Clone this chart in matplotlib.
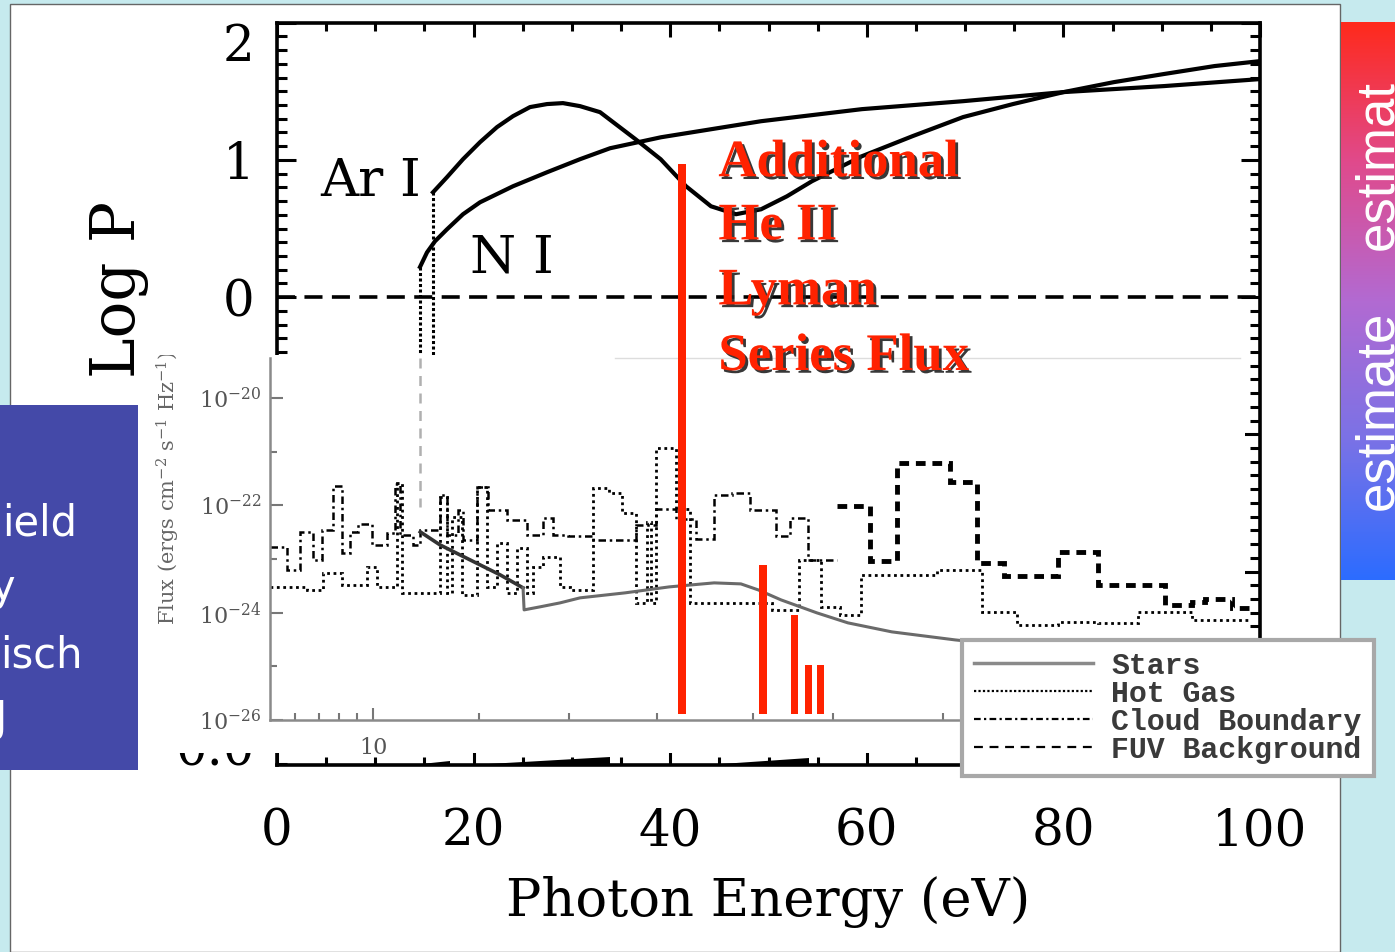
import numpy as np
import matplotlib
matplotlib.use("Agg")
import matplotlib.pyplot as plt
import matplotlib.patheffects as pe
from matplotlib.patches import Rectangle
from matplotlib.lines import Line2D
from matplotlib.ticker import MultipleLocator
from matplotlib.colors import LinearSegmentedColormap

plt.rcParams["font.family"] = "DejaVu Serif"
plt.rcParams["mathtext.fontset"] = "dejavuserif"

# ---- main panel: Log P against photon energy (eV) ----
ar_energy = [15.87, 17.29, 18.92, 20.65, 22.38, 24.01, 25.74, 27.47, 29.09, 30.82,
             32.86, 36.47, 39.03, 41.61, 44.15, 46.69, 49.24, 51.88, 54.43, 59.51,
             64.65, 69.79, 74.87, 80.01, 85.15, 90.23, 95.38, 100.0]
ar_logp = [0.764, 0.874, 1.005, 1.129, 1.239, 1.319, 1.385, 1.407, 1.414, 1.392,
           1.348, 1.151, 1.005, 0.808, 0.662, 0.604, 0.640, 0.735, 0.845, 1.027,
           1.173, 1.312, 1.407, 1.494, 1.567, 1.626, 1.684, 1.720]
n_energy = [14.55, 15.26, 16.07, 17.29, 18.92, 20.65, 24.01, 27.47, 30.82, 33.88,
            39.06, 49.24, 59.51, 69.79, 79.96, 90.23, 100.0]
n_logp = [0.22, 0.326, 0.407, 0.494, 0.604, 0.691, 0.808, 0.910, 1.005, 1.085,
          1.165, 1.282, 1.370, 1.428, 1.494, 1.538, 1.589]
edge_bottom = -0.42

# He II Lyman series bars
lyman_energy = [41.2, 49.4, 52.65, 54.1, 55.3]
lyman_top = [0.97, -1.95, -2.32, -2.68, -2.68]
lyman_width = [0.9, 0.8, 0.8, 0.7, 0.7]
lyman_bottom = -3.04
lyman_lines = ["Additional", "He II", "Lyman", "Series Flux"]
lyman_baselines = [0.881, 0.421, -0.053, -0.531]

# bits of the lower panel that peek out (start, end, height)
wedges = [(13.7, 17.6, 0.032), (19.7, 33.9, 0.055), (43.7, 54.1, 0.048)]

# ---- inset: log10 energy (eV) and log10 flux ----
stars_loge = [1.134, 1.190, 1.247, 1.304, 1.361, 1.426, 1.429, 1.474, 1.531, 1.588,
              1.716, 1.841, 1.969, 2.045, 2.094, 2.159, 2.261, 2.349, 2.474, 2.653,
              2.923, 3.207, 3.492]
stars_logf = [-22.495, -22.737, -22.924, -23.110, -23.296, -23.538, -23.948, -23.892,
              -23.818, -23.724, -23.631, -23.520, -23.445, -23.464, -23.575, -23.762,
              -24.004, -24.190, -24.358, -24.507, -24.693, -24.786, -24.879]

hot_edges = [0.707, 0.813, 0.858, 0.912, 0.983, 1.011, 1.068, 1.082, 1.190, 1.210,
             1.224, 1.253, 1.295, 1.324, 1.352, 1.381, 1.409, 1.438, 1.455, 1.483,
             1.531, 1.560, 1.625, 1.670, 1.707, 1.747, 1.778, 1.790, 1.804, 1.861,
             1.901, 2.134, 2.210, 2.273, 2.327, 2.386, 2.602, 2.730, 2.830, 2.946,
             3.060, 3.173, 3.327, 3.492]
hot_logf = [-23.520, -23.575, -23.259, -23.482, -23.147, -23.520, -21.583, -23.631,
            -21.844, -23.631, -22.216, -23.669, -21.657, -23.520, -22.700, -23.631,
            -22.793, -23.631, -23.147, -22.961, -23.520, -23.575, -21.676, -21.769,
            -22.142, -23.818, -22.309, -23.818, -20.931, -22.067, -23.818, -23.948,
            -23.017, -23.892, -24.041, -23.296, -23.203, -23.985, -24.227, -24.171,
            -24.190, -23.985, -24.134]

cloud_edges = [0.707, 0.756, 0.793, 0.830, 0.855, 0.886, 0.912, 0.935, 0.957, 0.997,
               1.040, 1.063, 1.077, 1.114, 1.134, 1.190, 1.210, 1.241, 1.256, 1.295,
               1.327, 1.381, 1.438, 1.483, 1.511, 1.554, 1.625, 1.747, 1.804, 1.861,
               1.918, 1.969, 2.020, 2.071, 2.145, 2.185, 2.236, 2.318]
cloud_logf = [-22.775, -23.203, -22.495, -23.017, -22.458, -21.639, -22.886, -22.495,
              -22.346, -22.737, -22.514, -21.601, -22.551, -22.737, -22.458, -21.806,
              -22.551, -22.086, -22.644, -21.657, -22.086, -22.272, -22.551, -22.235,
              -22.551, -22.570, -22.644, -22.365, -22.067, -22.253, -22.626, -21.806,
              -21.769, -22.086, -22.570, -22.235, -23.017]

fuv_edges = [2.318, 2.412, 2.489, 2.639, 2.716, 2.793, 2.946, 3.060, 3.250, 3.327,
             3.364, 3.440, 3.492]
fuv_logf = [-22.011, -23.035, -21.210, -21.564, -23.073, -23.315, -22.868, -23.482,
            -23.855, -23.799, -23.743, -23.911]

hydrogen_edge = 1.134
inset_minor_ev = [6, 7, 8, 9, 20, 36, 64, 120, 203, 416]
legend_labels = ["Stars", "Hot Gas", "Cloud Boundary", "FUV Background"]

side_lines = ["ield", "y", "isch", "J"]
W, H = 1395, 952


def rect(left, top, right, bottom):
    return [left / W, 1 - bottom / H, (right - left) / W, (bottom - top) / H]


fig = plt.figure(figsize=(W / 100, H / 100), dpi=100, facecolor="#c6eaee")

# slide panel
fig.add_artist(Rectangle((10 / W, 0), 1330 / W, 948 / H, transform=fig.transFigure,
                         facecolor="white", edgecolor="#666666", lw=1, zorder=0.1))

# main axes
ax = fig.add_axes(rect(277, 22.7, 1260, 765), zorder=1)
ax.set_facecolor("none")
ax.set_xlim(0, 100)
ax.set_ylim(-3.41, 2)
ax.plot(ar_energy, ar_logp, color="black", lw=3)
ax.plot(n_energy, n_logp, color="black", lw=3)
ax.axhline(0, color="black", lw=2.6, dashes=(5, 2.6))
ax.plot([ar_energy[0]] * 2, [ar_logp[0], edge_bottom], color="black", lw=2.2, dashes=(1, 0.8))
ax.plot([n_energy[0]] * 2, [n_logp[0], edge_bottom], color="black", lw=2.2, dashes=(1, 0.8))
ax.text(4.4, 0.734, "Ar I", fontsize=38)
ax.text(19.6, 0.18, "N I", fontsize=38)
for e0, e1, dh in wedges:
    ax.fill([e0, e1, e1], [-3.41, -3.41, -3.41 + dh], color="black", lw=0)

ax.set_xticks(range(0, 101, 20))
ax.xaxis.set_minor_locator(MultipleLocator(5))
ax.set_yticks([-3, -2, -1, 0, 1, 2])
ax.set_yticklabels(["", "", "", "0", "1", "2"])
ax.get_yticklabels()[-1].set_va("top")
ax.yaxis.set_minor_locator(MultipleLocator(0.1))
ax.tick_params(which="both", direction="in", top=True, right=True, width=2.2, labelsize=36)
ax.tick_params(axis="x", which="major", length=10, pad=30)
ax.tick_params(axis="x", which="minor", length=6)
ax.tick_params(axis="y", which="major", length=14, pad=16)
ax.tick_params(axis="y", which="minor", length=7)
for s in ax.spines.values():
    s.set_linewidth(2.6)
ax.set_xlabel("Photon Energy (eV)", fontsize=38, labelpad=14)
ax.set_ylabel("Log P", fontsize=44)
ax.yaxis.set_label_coords(-0.130, 0.64)

# label of lower panel, mostly hidden
fig.text(215 / W, 1 - 752 / H, "0.0", ha="center", va="center", fontsize=36, zorder=1.2)

# inset picture
inset_bg = Rectangle((150 / W, 1 - 753 / H), 1095 / W, 398 / H, transform=fig.transFigure,
                     facecolor="white", edgecolor="none", zorder=1.5)
fig.add_artist(inset_bg)

ax_in = fig.add_axes(rect(270, 358, 1260, 720), zorder=2)
ax_in.set_facecolor("none")
ax_in.set_xlim(0.707, 3.52)
ax_in.set_ylim(-26, -19.255)
ax_in.plot(stars_loge[:6], stars_logf[:6], color="#333333", lw=2.6)
ax_in.plot(stars_loge[5:], stars_logf[5:], color="#6a6a6a", lw=2.2)
ax_in.stairs(hot_logf, hot_edges, baseline=None, color="black", lw=2, linestyle=(0, (1, 1.3)))
ax_in.stairs(cloud_logf, cloud_edges, baseline=None, color="black", lw=1.8,
             linestyle=(0, (3, 1.5, 1, 1.5)))
ax_in.stairs(fuv_logf, fuv_edges, baseline=None, color="black", lw=3.5, linestyle=(0, (2, 1.4)))
ax_in.plot([hydrogen_edge] * 2, [-19.255, -22.03], color="#b0b0b0", lw=1.8, dashes=(4, 3))
ax_in.plot([0.348, 0.98], [1, 1], transform=ax_in.transAxes, color="#dddddd", lw=1, clip_on=False)
for side in ["top", "right"]:
    ax_in.spines[side].set_visible(False)
for side in ["left", "bottom"]:
    ax_in.spines[side].set_color("#8a8a8a")
    ax_in.spines[side].set_linewidth(1.8)
ax_in.set_xticks([1])
ax_in.set_xticklabels(["10"])
ax_in.set_xticks(np.log10(inset_minor_ev), minor=True)
ax_in.set_yticks([-26, -24, -22, -20])
ax_in.set_yticklabels([r"$10^{-26}$", r"$10^{-24}$", r"$10^{-22}$", r"$10^{-20}$"])
ax_in.set_yticks([-25, -23, -21], minor=True)
ax_in.tick_params(which="both", direction="in", color="#777777", labelcolor="#555555",
                  labelsize=16, width=1.5)
ax_in.tick_params(which="major", length=9, pad=6)
ax_in.tick_params(axis="x", which="major", pad=12)
ax_in.tick_params(which="minor", length=5)
ylab = fig.text(168 / W, 1 - 625 / H, r"Flux (ergs cm$^{-2}$ s$^{-1}$ Hz$^{-1}$)", rotation=90,
                ha="center", va="bottom", fontsize=15, color="#666666", zorder=2.5)
ylab.set_clip_path(inset_bg)

handles = [Line2D([], [], color="#8a8a8a", lw=2.5),
           Line2D([], [], color="black", lw=1.6, linestyle=(0, (1, 1))),
           Line2D([], [], color="black", lw=1.6, linestyle=(0, (3, 1.5, 1, 1.5))),
           Line2D([], [], color="black", lw=1.6, linestyle=(0, (4, 3)))]
leg = fig.legend(handles, legend_labels, loc="upper left", bbox_to_anchor=(962 / W, 1 - 640 / H),
                 borderaxespad=0,
                 prop={"family": "Liberation Mono", "size": 21.5, "weight": "bold"},
                 handlelength=4.0, labelspacing=0.0, borderpad=0.4, handletextpad=0.6,
                 fancybox=False, edgecolor="#a8a8a8", framealpha=1)
leg.get_frame().set_linewidth(3)
for t in leg.get_texts():
    t.set_color("#3a3a3a")

# red overlay: He II Lyman series
ax_r = fig.add_axes(rect(277, 22.7, 1260, 765), zorder=3)
ax_r.set_xlim(0, 100)
ax_r.set_ylim(-3.41, 2)
ax_r.axis("off")
ax_r.bar(lyman_energy, np.array(lyman_top) - lyman_bottom, bottom=lyman_bottom,
         width=lyman_width, color="#ff2200")
for line, yb in zip(lyman_lines, lyman_baselines):
    ax_r.text(44.9, yb, line, fontsize=38, family="Liberation Serif", weight="bold",
              color="#ff2200", va="baseline",
              path_effects=[pe.withSimplePatchShadow(offset=(2, -2), shadow_rgbFace="#222222",
                                                     alpha=0.9)])

# blue text box at the left, cut by the slide edge
fig.add_artist(Rectangle((0, 1 - 770 / H), 138 / W, 365 / H, transform=fig.transFigure,
                         facecolor="#4449a8", edgecolor="none", zorder=4))
for txt, x0, yb in zip(side_lines, [2, -9, 0, -6], [535, 600, 667, 731]):
    fig.text(x0 / W, 1 - yb / H, txt, family="DejaVu Sans", fontsize=30, color="white",
             va="baseline", zorder=4.1)

# gradient strip at the right
ax_g = fig.add_axes(rect(1341, 22, 1395, 580), zorder=4)
grad = LinearSegmentedColormap.from_list(
    "strip", ["#2c6cff", "#7a72e6", "#b26ad2", "#e04a8c", "#ff2a1c"])
ax_g.imshow(np.linspace(0, 1, 256)[:, None], cmap=grad, origin="lower", aspect="auto",
            extent=[0, 1, 0, 1])
ax_g.axis("off")
for txt, y0 in [("estimate", (580 - 510) / 558), ("estimat", (580 - 250) / 558)]:
    ax_g.text(0.944, y0, txt, rotation=90, rotation_mode="anchor", ha="left", va="baseline",
              family="Liberation Sans", fontsize=38, color="white", clip_on=True)

fig.savefig("out.png", dpi=100, facecolor=fig.get_facecolor())
